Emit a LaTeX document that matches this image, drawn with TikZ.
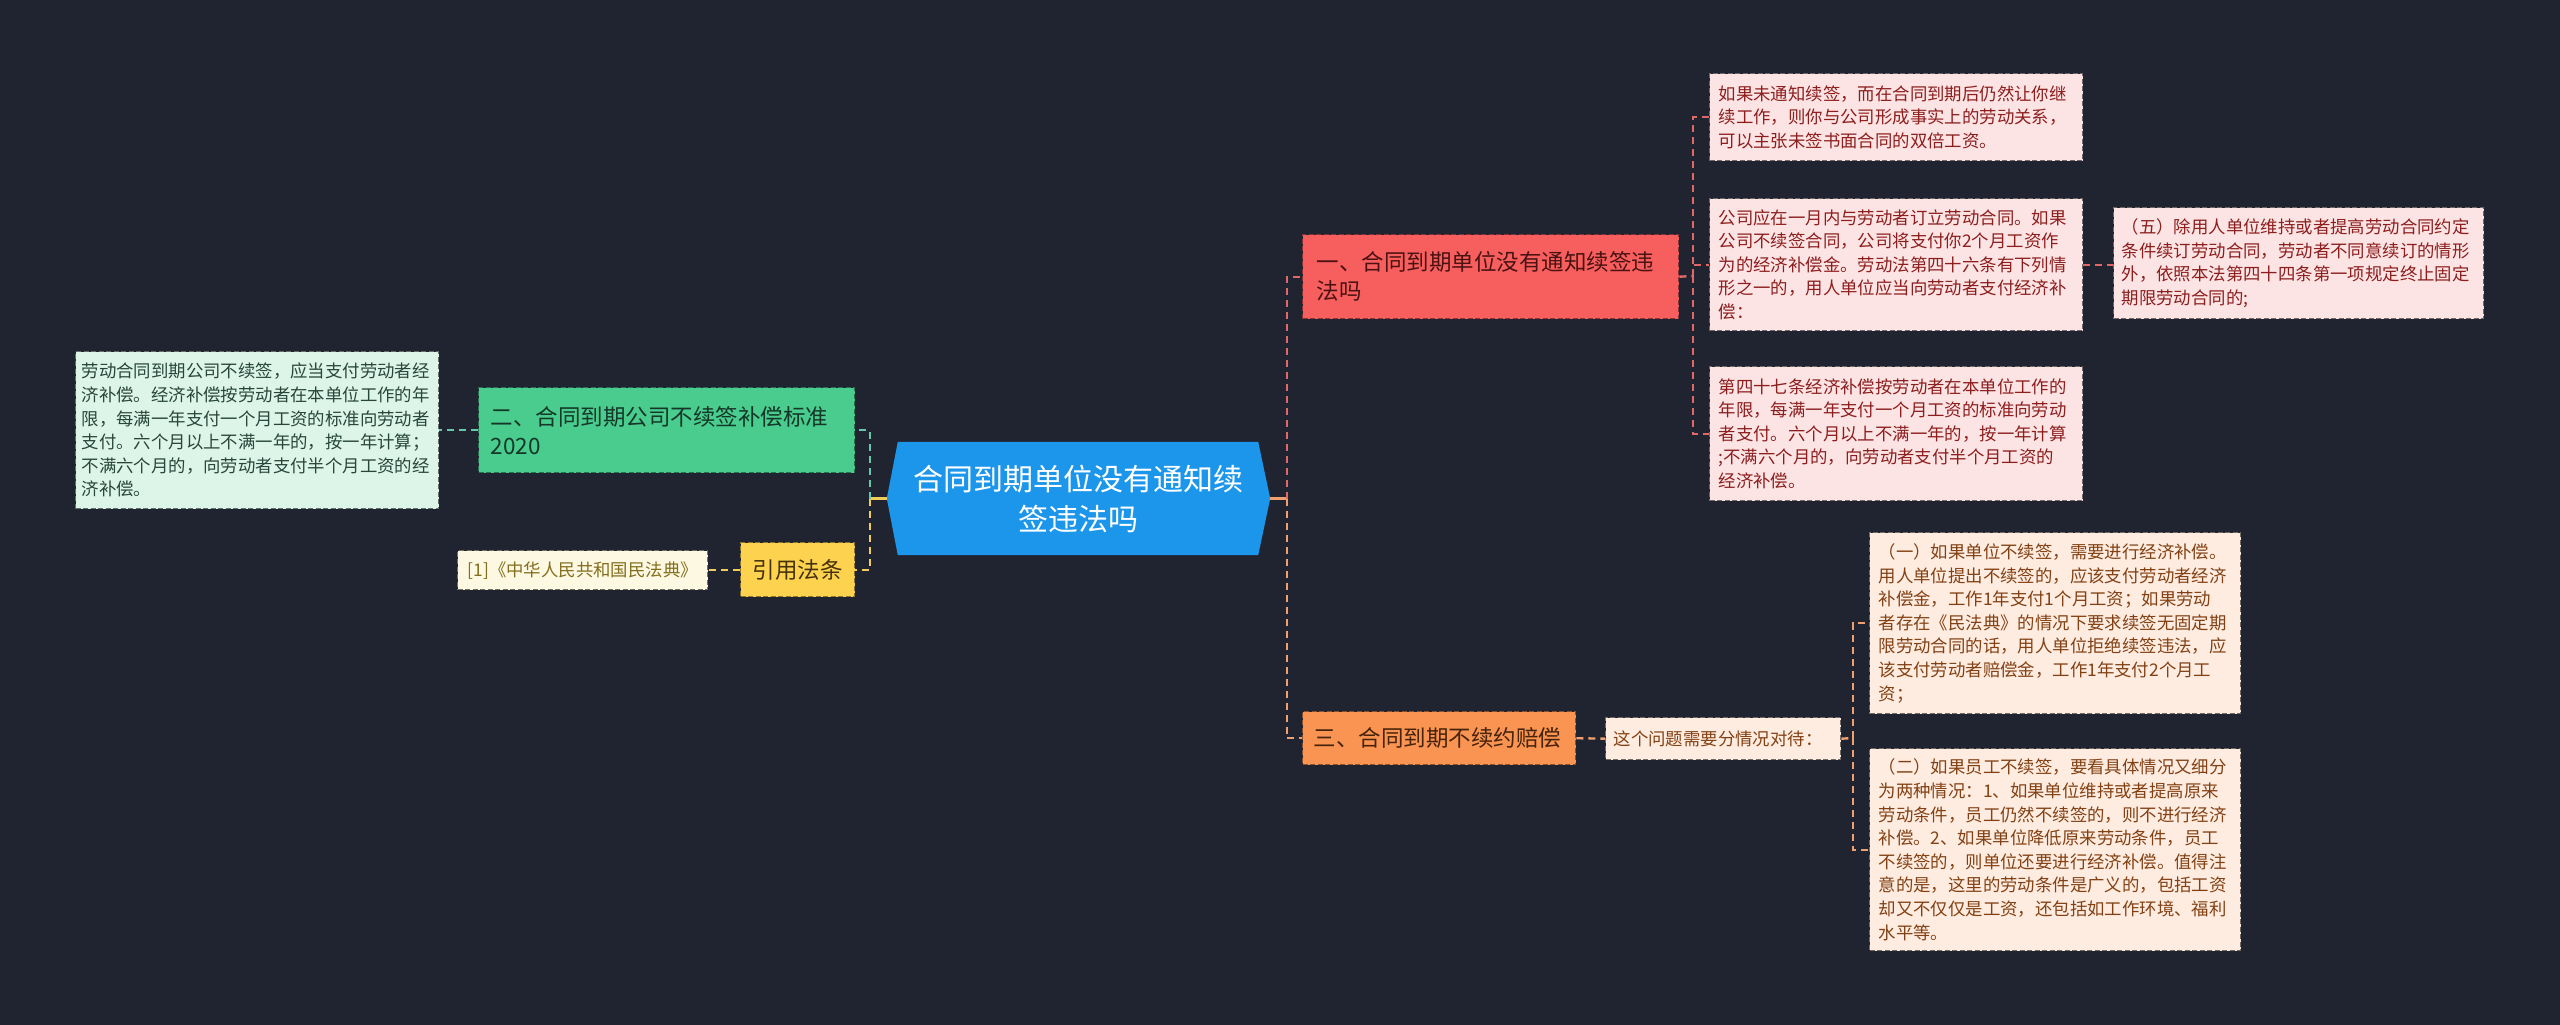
\documentclass[tikz,border=0pt]{standalone}
\usepackage{fontspec}
\setmainfont{Noto Sans CJK SC}
\usetikzlibrary{backgrounds}
\definecolor{bg}{RGB}{32,36,48}
\definecolor{cblue}{RGB}{28,150,235}
\definecolor{redF}{RGB}{247,94,94}
\definecolor{redT}{RGB}{75,18,18}
\definecolor{redD}{RGB}{253,228,228}
\definecolor{redDT}{RGB}{140,30,30}
\definecolor{redL}{RGB}{226,104,104}
\definecolor{oraF}{RGB}{249,148,82}
\definecolor{oraT}{RGB}{70,35,10}
\definecolor{oraD}{RGB}{254,236,224}
\definecolor{oraDT}{RGB}{130,65,20}
\definecolor{oraL}{RGB}{240,160,110}
\definecolor{greF}{RGB}{74,204,142}
\definecolor{greT}{RGB}{20,55,40}
\definecolor{greD}{RGB}{221,245,233}
\definecolor{greDT}{RGB}{40,70,60}
\definecolor{greL}{RGB}{100,200,170}
\definecolor{yelF}{RGB}{252,210,78}
\definecolor{yelT}{RGB}{70,50,10}
\definecolor{yelD}{RGB}{253,248,225}
\definecolor{yelDT}{RGB}{130,110,30}
\definecolor{yelL}{RGB}{240,205,90}
\tikzset{
  boxbase/.style={anchor=north west, align=left, inner ysep=2pt, line width=1.4pt, dash pattern=on 5pt off 2.5pt},
  mainfont/.style={font=\fontsize{22.5}{29}\selectfont},
  detfont/.style={font=\fontsize{17.4}{23.6}\selectfont},
  redmain/.style={boxbase, mainfont, fill=redF, draw=redF!55!black, text=redT},
  oramain/.style={boxbase, mainfont, fill=oraF, draw=oraF!55!black, text=oraT},
  gremain/.style={boxbase, mainfont, fill=greF, draw=greF!55!black, text=greT},
  yelmain/.style={boxbase, mainfont, fill=yelF, draw=yelF!55!black, text=yelT, align=center},
  reddet/.style={boxbase, detfont, fill=redD, draw=redD!45!black, text=redDT},
  oradet/.style={boxbase, detfont, fill=oraD, draw=oraD!45!black, text=oraDT},
  gredet/.style={boxbase, detfont, fill=greD, draw=greD!45!black, text=greDT},
  yeldet/.style={boxbase, detfont, fill=yelD, draw=yelD!45!black, text=yelDT, align=center},
  link/.style={line width=2.4pt, dash pattern=on 7pt off 5pt},
  stub/.style={line width=2.4pt},
}
\begin{document}
\begin{tikzpicture}[x=1pt,y=-1pt]
\useasboundingbox (0,0) rectangle (2560,1025);
% central topic
\node[minimum width=360pt, minimum height=113pt, inner sep=0pt, align=center, text=white,
      font=\fontsize{30}{40}\selectfont] (c) at (1078,498.5) {合同到期单位没有通知续\\签违法吗};
\coordinate (cR) at ([xshift=12pt]c.east);
\coordinate (cL) at ([xshift=-11pt]c.west);
\coordinate (jR) at (1287,498.5);
\coordinate (jL) at (870,498.5);
% right branch 1
\node[redmain, text width=348pt, inner xsep=14pt, minimum height=84pt] (n1) at (1302,234) {一、合同到期单位没有通知续签违\\法吗};
\node[reddet, text width=355pt, inner xsep=9pt, minimum height=87pt] (a) at (1709,73) {如果未通知续签，而在合同到期后仍然让你继\\续工作，则你与公司形成事实上的劳动关系，\\可以主张未签书面合同的双倍工资。};
\node[reddet, text width=355pt, inner xsep=9pt, minimum height=132pt] (b) at (1709,198) {公司应在一月内与劳动者订立劳动合同。如果\\公司不续签合同，公司将支付你2个月工资作\\为的经济补偿金。劳动法第四十六条有下列情\\形之一的，用人单位应当向劳动者支付经济补\\偿：};
\node[reddet, text width=355pt, inner xsep=9pt, minimum height=134pt] (cc) at (1709,366) {第四十七条经济补偿按劳动者在本单位工作的\\年限，每满一年支付一个月工资的标准向劳动\\者支付。六个月以上不满一年的，按一年计算\\;不满六个月的，向劳动者支付半个月工资的\\经济补偿。};
\node[reddet, text width=354pt, inner xsep=8pt, minimum height=111pt] (d) at (2113,207) {（五）除用人单位维持或者提高劳动合同约定\\条件续订劳动合同，劳动者不同意续订的情形\\外，依照本法第四十四条第一项规定终止固定\\期限劳动合同的;};
% right branch 3
\node[oramain, text width=251pt, inner xsep=11pt, minimum height=53pt] (n3) at (1302,711) {三、合同到期不续约赔偿};
\node[oradet, text width=219pt, inner xsep=8pt, minimum height=42pt] (q) at (1605,717) {这个问题需要分情况对待：};
\node[oradet, text width=353pt, inner xsep=9pt, minimum height=181pt] (e1) at (1869,532) {（一）如果单位不续签，需要进行经济补偿。\\用人单位提出不续签的，应该支付劳动者经济\\补偿金，工作1年支付1个月工资；如果劳动\\者存在《民法典》的情况下要求续签无固定期\\限劳动合同的话，用人单位拒绝续签违法，应\\该支付劳动者赔偿金，工作1年支付2个月工\\资；};
\node[oradet, text width=353pt, inner xsep=9pt, minimum height=202pt] (e2) at (1869,748) {（二）如果员工不续签，要看具体情况又细分\\为两种情况：1、如果单位维持或者提高原来\\劳动条件，员工仍然不续签的，则不进行经济\\补偿。2、如果单位降低原来劳动条件，员工\\不续签的，则单位还要进行经济补偿。值得注\\意的是，这里的劳动条件是广义的，包括工资\\却又不仅仅是工资，还包括如工作环境、福利\\水平等。};
% left branch 2
\node[gremain, text width=352pt, inner xsep=12pt, minimum height=85pt] (n2) at (478,387) {二、合同到期公司不续签补偿标准\\2020};
\node[gredet, text width=351pt, inner xsep=6pt, minimum height=157pt] (g) at (75,351) {劳动合同到期公司不续签，应当支付劳动者经\\济补偿。经济补偿按劳动者在本单位工作的年\\限，每满一年支付一个月工资的标准向劳动者\\支付。六个月以上不满一年的，按一年计算；\\不满六个月的，向劳动者支付半个月工资的经\\济补偿。};
% left branch yellow
\node[yelmain, minimum width=114pt, inner xsep=4pt, minimum height=54pt] (ny) at (740,542) {引用法条};
\node[yeldet, minimum width=250pt, inner xsep=4pt, minimum height=39pt] (law) at (457,550) {[1]《中华人民共和国民法典》};
% background and hexagon
\begin{scope}[on background layer]
\fill[bg] (0,0) rectangle (2560,1025);
\fill[cblue] (c.north west) -- (c.north east) -- (cR) -- (c.south east) -- (c.south west) -- (cL) -- cycle;
\end{scope}
% connectors
\draw[stub, oraL] (cR) -- (jR);
\draw[link, redL] (jR) |- (n1.west);
\draw[link, oraL] (jR) |- (n3.west);
\draw[stub, yelL] (cL) -- (jL);
\draw[link, greL] (jL) |- (n2.east);
\draw[link, yelL] (jL) |- (ny.east);
\coordinate (r1) at (1693,276);
\draw[link, redL] (n1.east) -- (r1);
\draw[link, redL] (r1) |- (a.west);
\draw[link, redL] (r1) |- (b.west);
\draw[link, redL] (r1) |- (cc.west);
\draw[link, redL] (b.east) -- (d.west |- b.east);
\draw[link, oraL] (n3.east) -- (q.west);
\coordinate (r3) at (1853,738);
\draw[link, oraL] (q.east) -- (r3);
\draw[link, oraL] (r3) |- (e1.west);
\draw[link, oraL] (r3) |- (e2.west);
\draw[link, greL] (n2.west) -- (g.east |- n2.west);
\draw[link, yelL] (ny.west) -- (law.east |- ny.west);
\end{tikzpicture}
\end{document}
